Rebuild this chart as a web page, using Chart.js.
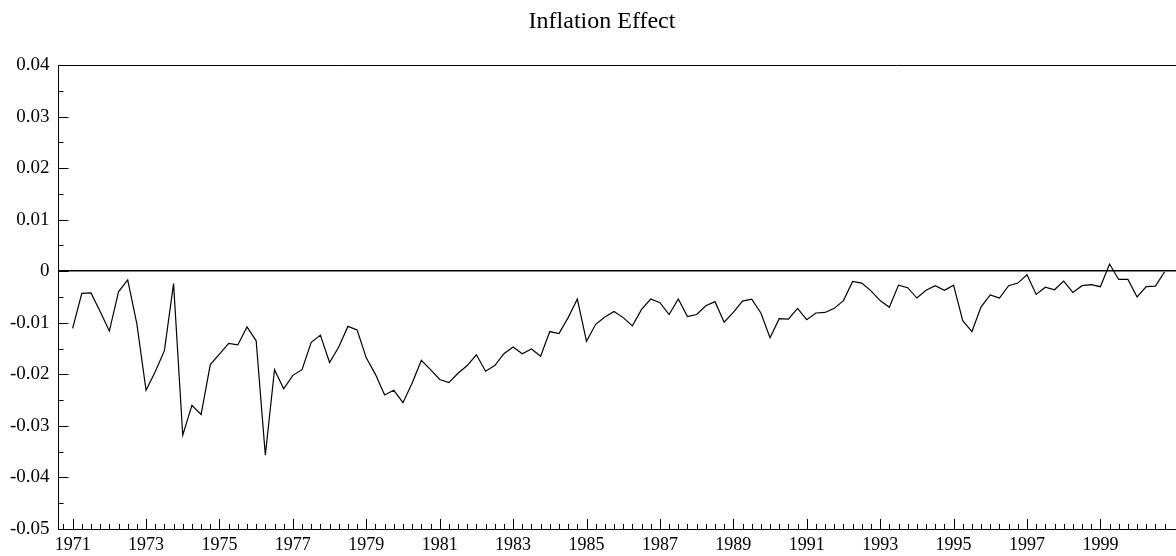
<!DOCTYPE html>
<html><head><meta charset="utf-8">
<script src="https://cdn.jsdelivr.net/npm/chart.js@4/dist/chart.umd.min.js"></script>
<style>html,body{margin:0;padding:0;background:#fff;}#wrap{width:1176px;height:556px;}</style>
</head><body><div id="wrap"><canvas id="c" width="1176" height="556"></canvas></div>
<script>
// ---- data ----
const chartTitle = 'Inflation Effect';
const startYear = 1971;          // first observation: 1971 Q1
const periodsPerYear = 4;        // quarterly
const inflationEffect = [
 -0.0111,-0.0043,-0.0042,-0.0078,-0.0116,-0.0040,-0.0017,-0.0102,-0.0231,-0.0195,
 -0.0154,-0.0024,-0.0318,-0.0260,-0.0278,-0.0181,-0.0161,-0.0140,-0.0143,-0.0108,
 -0.0135,-0.0357,-0.0191,-0.0228,-0.0202,-0.0191,-0.0138,-0.0124,-0.0177,-0.0147,
 -0.0107,-0.0114,-0.0168,-0.0200,-0.0240,-0.0231,-0.0255,-0.0217,-0.0173,-0.0191,
 -0.0210,-0.0216,-0.0198,-0.0183,-0.0162,-0.0194,-0.0183,-0.0160,-0.0147,-0.0160,
 -0.0151,-0.0165,-0.0117,-0.0121,-0.0090,-0.0054,-0.0136,-0.0103,-0.0089,-0.0078,
 -0.0090,-0.0106,-0.0074,-0.0054,-0.0061,-0.0084,-0.0054,-0.0088,-0.0084,-0.0067,
 -0.0059,-0.0099,-0.0080,-0.0058,-0.0054,-0.0081,-0.0129,-0.0092,-0.0093,-0.0072,
 -0.0094,-0.0081,-0.0080,-0.0072,-0.0057,-0.0020,-0.0023,-0.0038,-0.0057,-0.0070,
 -0.0027,-0.0032,-0.0052,-0.0037,-0.0028,-0.0037,-0.0027,-0.0096,-0.0117,-0.0069,
 -0.0046,-0.0052,-0.0028,-0.0023,-0.0007,-0.0045,-0.0031,-0.0036,-0.0019,-0.0041,
 -0.0028,-0.0026,-0.0030, 0.0014,-0.0016,-0.0016,-0.0050,-0.0030,-0.0029,-0.0001
];
const xTickLabels = [1971,1973,1975,1977,1979,1981,1983,1985,1987,1989,1991,1993,1995,1997,1999];
const yTickValues = [0.04,0.03,0.02,0.01,0,-0.01,-0.02,-0.03,-0.04,-0.05];
const xMin = 1970.615, xMax = 2001.06;
const yMin = -0.05, yMax = 0.04;
const xMinorFirst = 1970.75, xMinorLast = 2000.75;

// ---- build ----
const points = inflationEffect.map((v, i) => ({ x: startYear + i / periodsPerYear, y: v }));
const serif = 'Liberation Serif, Times New Roman, serif';

const frameAndTitle = {
  id: 'frameAndTitle',
  afterDraw(chart) {
    const { ctx, chartArea: a, scales: { x, y } } = chart;
    ctx.save();
    // title
    ctx.fillStyle = '#000';
    ctx.font = '24px ' + serif;
    ctx.textAlign = 'center';
    ctx.textBaseline = 'alphabetic';
    ctx.fillText(chartTitle, 602, 27.5);
    // top frame line
    ctx.strokeStyle = '#000';
    ctx.lineWidth = 1;
    ctx.beginPath();
    ctx.moveTo(a.left, Math.round(a.top) + 0.5);
    ctx.lineTo(a.right, Math.round(a.top) + 0.5);
    // y ticks (major every 0.01, minor every 0.005), pointing inward
    const yStep = 0.005;
    const nY = Math.round((yMax - yMin) / yStep);
    for (let k = 0; k <= nY; k++) {
      const v = yMin + k * yStep;
      const py = Math.round(y.getPixelForValue(v)) + 0.5;
      const len = k % 2 === 0 ? 10 : 5;
      ctx.moveTo(a.left, py);
      ctx.lineTo(a.left + len, py);
    }
    // x ticks (quarterly minor, major on labelled years), pointing inward
    const nX = Math.round((xMinorLast - xMinorFirst) * periodsPerYear);
    for (let k = 0; k <= nX; k++) {
      const v = xMinorFirst + k / periodsPerYear;
      const px = Math.round(x.getPixelForValue(v)) + 0.5;
      const major = xTickLabels.some(t => Math.abs(t - v) < 1e-6);
      const len = major ? 10 : 5;
      ctx.moveTo(px, a.bottom);
      ctx.lineTo(px, a.bottom - len);
    }
    ctx.stroke();
    ctx.restore();
  }
};

new Chart(document.getElementById('c'), {
  type: 'line',
  data: {
    datasets: [{
      label: chartTitle,
      data: points,
      borderColor: '#000',
      borderWidth: 1.2,
      pointRadius: 0,
      tension: 0,
      fill: false
    }]
  },
  options: {
    responsive: false,
    animation: false,
    devicePixelRatio: 1,
    layout: { padding: { left: 0, right: 0, top: 65, bottom: 0 } },
    plugins: {
      legend: { display: false },
      tooltip: { enabled: false },
      title: { display: false }
    },
    scales: {
      x: {
        type: 'linear',
        min: xMin,
        max: xMax,
        afterBuildTicks: s => { s.ticks = xTickLabels.map(v => ({ value: v })); },
        afterFit: s => { s.height = 27; },
        ticks: {
          callback: v => String(v),
          color: '#000',
          font: { family: serif, size: 18 },
          maxRotation: 0, minRotation: 0, autoSkip: false,
          padding: 5
        },
        grid: { display: false, drawTicks: false },
        border: { display: true, color: '#000', width: 1 }
      },
      y: {
        type: 'linear',
        min: yMin,
        max: yMax,
        afterBuildTicks: s => { s.ticks = yTickValues.map(v => ({ value: v })); },
        afterFit: s => { s.width = 58.5; },
        ticks: {
          callback: v => (Math.abs(v) < 1e-9 ? '0' : v.toFixed(2)),
          color: '#000',
          font: { family: serif, size: 19 },
          padding: 9
        },
        grid: {
          drawTicks: false,
          color: c => (c.tick && Math.abs(c.tick.value) < 1e-9 ? '#000' : 'rgba(0,0,0,0)'),
          lineWidth: 1.5
        },
        border: { display: true, color: '#000', width: 1 }
      }
    }
  },
  plugins: [frameAndTitle]
});
</script>
</body></html>
